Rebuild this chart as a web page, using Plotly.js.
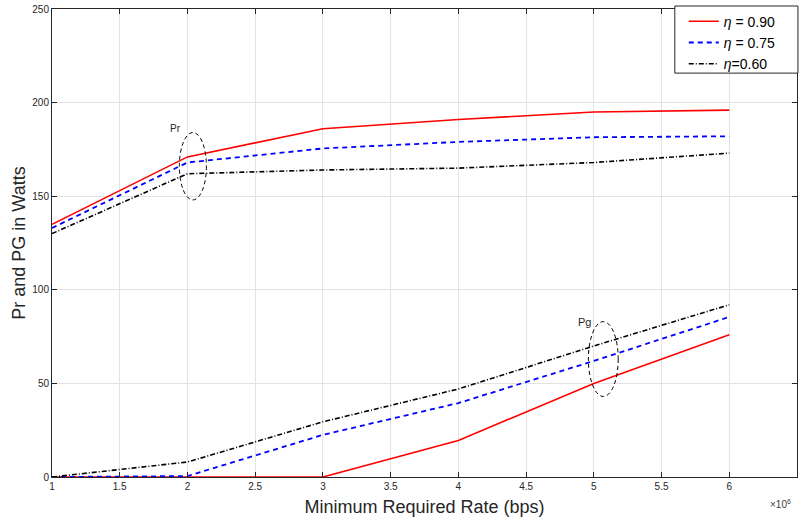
<!DOCTYPE html>
<html>
<head>
<meta charset="utf-8">
<script src="https://cdn.plot.ly/plotly-3.0.1.min.js"></script>
<style>html,body{margin:0;padding:0;background:#fff;}#chart{width:801px;height:523px;}</style>
</head>
<body>
<div id="chart"></div>
<script>
// Minimum required rate, in units of 1e6 bps
const rate = [1, 2, 3, 4, 5, 6];

// Relay power Pr (W) for each efficiency
const prEta090 = [135, 171, 186, 191, 195, 196];
const prEta075 = [133, 168, 175.5, 179, 181.5, 182];
const prEta060 = [130, 162, 164, 165, 168, 173];

// Harvested power Pg (W) for each efficiency
const pgEta090 = [0, 0, 0, 19.5, 50, 76];
const pgEta075 = [0, 0.5, 22.5, 39.5, 62, 85.5];
const pgEta060 = [0, 8, 29.5, 47, 70, 92];

const legendNames = ['<i>η</i> = 0.90', '<i>η</i> = 0.75', '<i>η</i>=0.60'];
const xTicks = [1, 1.5, 2, 2.5, 3, 3.5, 4, 4.5, 5, 5.5, 6, 6.5];
const yTicks = [0, 50, 100, 150, 200, 250];

const FONT = 'Liberation Sans, Arial, sans-serif';

const styles = [
  {color: '#ff0000', width: 1.6, dash: 'solid'},
  {color: '#0000ff', width: 1.8, dash: '5px,4px'},
  {color: '#000000', width: 1.6, dash: '5px,2px,1px,2px'}
];

const prSets = [prEta090, prEta075, prEta060];
const pgSets = [pgEta090, pgEta075, pgEta060];

const traces = [];
prSets.forEach((ys, i) => {
  traces.push({x: rate, y: ys, type: 'scatter', mode: 'lines', name: legendNames[i],
    line: styles[i], legendgroup: 'g' + i, showlegend: true});
});
pgSets.forEach((ys, i) => {
  traces.push({x: rate, y: ys, type: 'scatter', mode: 'lines', name: legendNames[i],
    line: styles[i], legendgroup: 'g' + i, showlegend: false});
});

const axisCommon = {
  showline: true, linecolor: '#262626', linewidth: 1, mirror: 'ticks',
  ticks: 'inside', ticklen: 5, tickcolor: '#262626',
  showgrid: true, gridcolor: '#e3e3e3', gridwidth: 1, zeroline: false,
  tickfont: {family: FONT, size: 10, color: '#262626'}
};

const layout = {
  width: 801, height: 523,
  margin: {l: 52, r: 4, t: 9, b: 46},
  paper_bgcolor: '#ffffff', plot_bgcolor: '#ffffff',
  showlegend: true,
  xaxis: Object.assign({}, axisCommon, {
    range: [1, 6.5], tickvals: xTicks, ticktext: xTicks.map(String),
    title: {text: 'Minimum Required Rate (bps)', standoff: 9,
      font: {family: FONT, size: 18, color: '#262626'}}
  }),
  yaxis: Object.assign({}, axisCommon, {
    range: [0, 250], tickvals: yTicks, ticktext: yTicks.map(String),
    title: {text: 'Pr and PG in Watts', standoff: 2,
      font: {family: FONT, size: 18, color: '#262626'}}
  }),
  // legend entries sit on top of a framed white box drawn as a shape
  legend: {
    x: 0.848, xanchor: 'left', y: 1.007, yanchor: 'top',
    bgcolor: 'rgba(0,0,0,0)', borderwidth: 0,
    font: {family: FONT, size: 14, color: '#000'},
    itemwidth: 30, tracegroupgap: 0
  },
  shapes: [
    {type: 'rect', xref: 'paper', yref: 'paper', x0: 0.836, x1: 1.0013, y0: 0.863, y1: 1.0064,
      layer: 'above', fillcolor: '#ffffff', line: {color: '#262626', width: 1}},
    {type: 'circle', xref: 'x', yref: 'y', x0: 1.94, x1: 2.14, y0: 148, y1: 184,
      line: {color: '#000', width: 1, dash: '4px,3px'}},
    {type: 'circle', xref: 'x', yref: 'y', x0: 4.96, x1: 5.18, y0: 43, y1: 83,
      line: {color: '#000', width: 1, dash: '4px,3px'}}
  ],
  annotations: [
    {text: 'Pr', x: 1.91, y: 186, xref: 'x', yref: 'y', showarrow: false,
      font: {family: FONT, size: 10, color: '#262626'}},
    {text: 'Pg', x: 4.93, y: 83, xref: 'x', yref: 'y', showarrow: false,
      font: {family: FONT, size: 11, color: '#262626'}},
    {text: '×10<sup>6</sup>', x: 0.995, xanchor: 'right', y: -0.04, yanchor: 'top',
      xref: 'paper', yref: 'paper', showarrow: false,
      font: {family: FONT, size: 10, color: '#404040'}}
  ]
};

Plotly.newPlot('chart', traces, layout, {displayModeBar: false, staticPlot: true});
</script>
</body>
</html>
